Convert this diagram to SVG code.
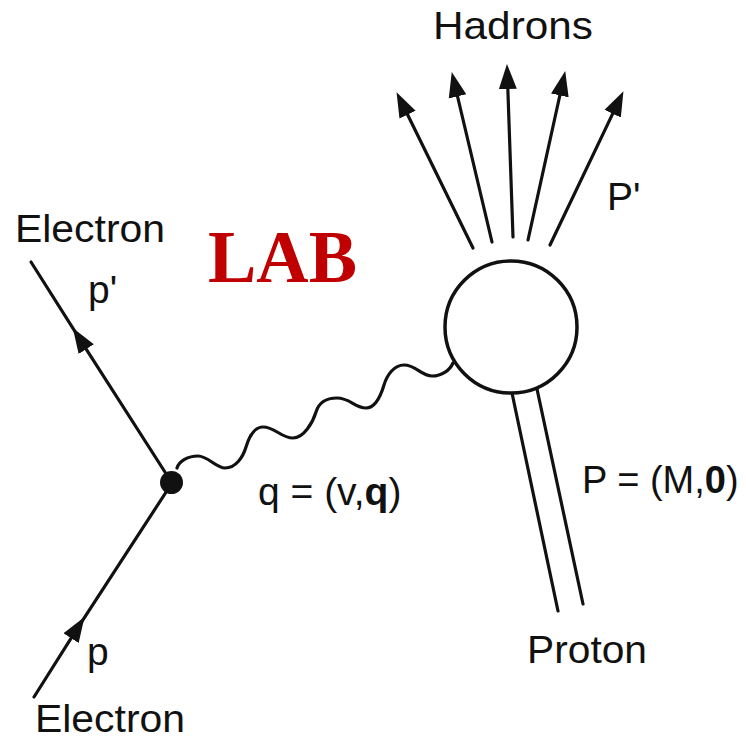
<svg xmlns="http://www.w3.org/2000/svg" width="746" height="741" viewBox="0 0 746 741">
<style>
.ln{fill:none;stroke:#111;stroke-width:3.2;stroke-linecap:round;stroke-linejoin:round}
.t{font-family:"Liberation Sans",Arial,Helvetica,sans-serif;font-size:39px;fill:#111}
.lab{font-family:"Liberation Serif","Times New Roman",serif;font-weight:bold;font-size:75px;fill:#c00000}
</style>
<defs>
<marker id="ah" markerUnits="userSpaceOnUse" markerWidth="25" markerHeight="19" viewBox="0 -9.5 25 19" refX="4" refY="0" orient="auto">
<path d="M0,-9 L25,0 L0,9 z" fill="#111"/>
</marker>
</defs>
<rect width="746" height="741" fill="#fff"/>
<g id="connectors">
<path id="electron-in" class="ln" d="M34,697 L73.2,634.8 L172,483" marker-mid="url(#ah)"/>
<path id="electron-out" class="ln" d="M172,483 L84.1,345.8 L31,262" marker-mid="url(#ah)"/>
<path id="photon" class="ln" d="M177,468 C179,461 188,456 198,456 C208,456 216,468 225,468 C236,468 243,457 246,447 C249,437 254,427 263,427 C275,427 281,438 293,438 C304,438 313,422 316,412 C319,402 327,398 337,398 C350,398 355,408 366,408 C376,408 381,395 384,385 C387,375 394,365 404,365 C416,365 421,376 432,376 C442,376 450,370 453,363"/>
<g id="proton-lines">
<line class="ln" x1="512" y1="393" x2="558" y2="611"/>
<line class="ln" x1="537" y1="389" x2="583" y2="604"/>
</g>
<g id="hadron-arrows">
<line class="ln" x1="473" y1="248" x2="405.8" y2="111" marker-end="url(#ah)"/>
<line class="ln" x1="492" y1="242" x2="456.6" y2="92.5" marker-end="url(#ah)"/>
<line class="ln" x1="513" y1="237" x2="507.7" y2="85" marker-end="url(#ah)"/>
<line class="ln" x1="528" y1="240" x2="560.7" y2="91.5" marker-end="url(#ah)"/>
<line class="ln" x1="550" y1="245" x2="614.4" y2="110.1" marker-end="url(#ah)"/>
</g>
</g>
<g id="vertex"><circle cx="171.5" cy="482.5" r="11.5" fill="#111"/></g>
<g id="hadronic-blob"><circle cx="511" cy="327" r="66" fill="#fff" stroke="#111" stroke-width="3.5"/></g>
<g id="labels">
<text class="t" x="433" y="39" textLength="160" lengthAdjust="spacingAndGlyphs">Hadrons</text>
<text class="t" x="15" y="242" textLength="150" lengthAdjust="spacingAndGlyphs">Electron</text>
<text class="lab" x="208" y="282" textLength="149" lengthAdjust="spacingAndGlyphs">LAB</text>
<text class="t" x="88" y="303">p'</text>
<text class="t" x="607" y="210">P'</text>
<text class="t" x="258" y="505">q = (v,<tspan font-weight="bold">q</tspan>)</text>
<text class="t" x="582" y="493" style="font-size:38px">P = (M,<tspan font-weight="bold">0</tspan>)</text>
<text class="t" x="527" y="663" textLength="120" lengthAdjust="spacingAndGlyphs">Proton</text>
<text class="t" x="87" y="665">p</text>
<text class="t" x="35" y="732" textLength="150" lengthAdjust="spacingAndGlyphs">Electron</text>
</g>
</svg>
